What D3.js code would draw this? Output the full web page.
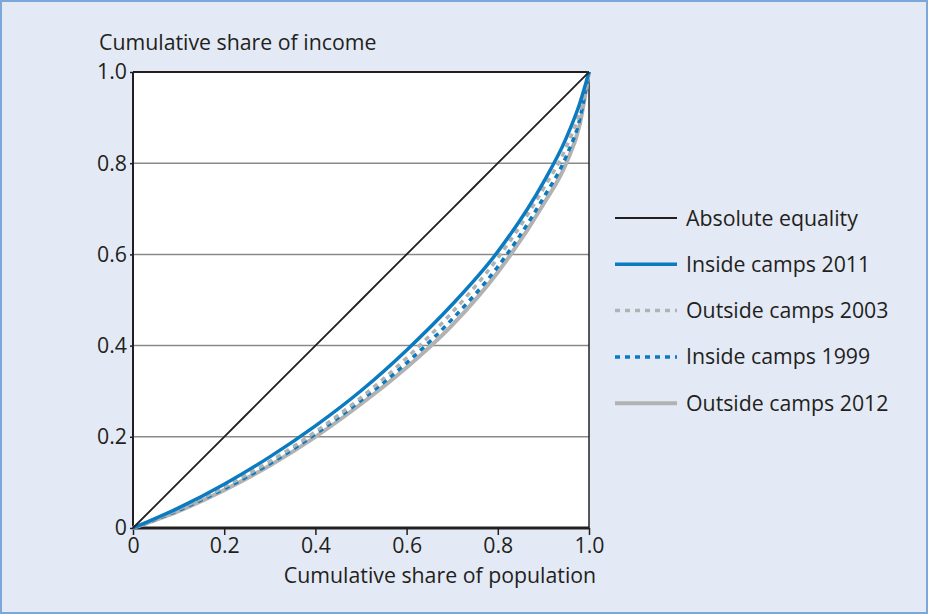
<!DOCTYPE html>
<html>
<head>
<meta charset="utf-8">
<script src="https://cdn.jsdelivr.net/npm/d3@7"></script>
<style>
  html, body { margin: 0; padding: 0; background: #e4eaf5; }
  svg { display: block; font-family: "Open Sans", "Noto Sans", sans-serif; }
</style>
</head>
<body>
<svg id="chart" width="928" height="614"></svg>
<script>
// Cumulative share of population (x) for the Lorenz curves
const populationShare = [0, 0.1, 0.2, 0.3, 0.4, 0.5, 0.6, 0.7, 0.8, 0.9, 0.95, 0.98, 1];
// Cumulative share of income (y) per series
const equality      = [0, 0.1, 0.2, 0.3, 0.4, 0.5, 0.6, 0.7, 0.8, 0.9, 0.95, 0.98, 1];
const inside2011    = [0, 0.044, 0.096, 0.156, 0.224, 0.301, 0.390, 0.490, 0.606, 0.758, 0.855, 0.932, 1];
const outside2003   = [0, 0.041, 0.090, 0.146, 0.211, 0.286, 0.373, 0.473, 0.592, 0.744, 0.835, 0.914, 1];
const inside1999    = [0, 0.039, 0.086, 0.141, 0.206, 0.280, 0.362, 0.458, 0.573, 0.724, 0.815, 0.898, 1];
const outside2012   = [0, 0.037, 0.083, 0.137, 0.200, 0.272, 0.352, 0.445, 0.561, 0.710, 0.800, 0.886, 1];
const xTicks = [0, 0.2, 0.4, 0.6, 0.8, 1.0];
const yTicks = [0, 0.2, 0.4, 0.6, 0.8, 1.0];
const xTickLabels = ["0", "0.2", "0.4", "0.6", "0.8", "1.0"];
const yTickLabels = ["0", "0.2", "0.4", "0.6", "0.8", "1.0"];
const seriesNames = ["Absolute equality", "Inside camps 2011", "Outside camps 2003", "Inside camps 1999", "Outside camps 2012"];

(function () {
const FS = 21.3;
const series = [
  { name: seriesNames[4], values: outside2012, color: "#b2b2b2", width: 4, dash: null },
  { name: seriesNames[3], values: inside1999, color: "#0b7bc1", width: 3.5, dash: "5,5" },
  { name: seriesNames[2], values: outside2003, color: "#b2b2b2", width: 3.5, dash: "5,5" },
  { name: seriesNames[1], values: inside2011, color: "#0b7bc1", width: 3.5, dash: null },
  { name: seriesNames[0], values: equality, color: "#231f20", width: 1.8, dash: null }
];

const svg = d3.select("#chart");
const W = 928, H = 614;

svg.append("rect").attr("x", 1).attr("y", 1).attr("width", W - 2).attr("height", H - 2)
  .attr("fill", "#e4eaf5").attr("stroke", "#7ba7d9").attr("stroke-width", 2);

const pL = 133, pR = 589, pT = 72, pB = 528;
const x = d3.scaleLinear().domain([0, 1]).range([pL, pR]);
const y = d3.scaleLinear().domain([0, 1]).range([pB, pT]);

// plot background
svg.append("rect").attr("x", pL).attr("y", pT).attr("width", pR - pL).attr("height", pB - pT)
  .attr("fill", "#ffffff");

// gridlines
svg.append("g").selectAll("line").data(yTicks.filter(t => t > 0 && t < 1)).join("line")
  .attr("x1", pL).attr("x2", pR).attr("y1", d => y(d)).attr("y2", d => y(d))
  .attr("stroke", "#8a8a8a").attr("stroke-width", 1.5);

// frame: top and right
svg.append("line").attr("x1", pL).attr("x2", pR).attr("y1", pT).attr("y2", pT)
  .attr("stroke", "#231f20").attr("stroke-width", 2);
svg.append("line").attr("x1", pR).attr("x2", pR).attr("y1", pT).attr("y2", pB)
  .attr("stroke", "#231f20").attr("stroke-width", 1.5);

// axes
const xAxis = d3.axisBottom(x).tickValues(xTicks).tickFormat((d, i) => xTickLabels[i]).tickSize(7).tickPadding(3);
const gx = svg.append("g").attr("transform", `translate(0,${pB})`).call(xAxis);
gx.select(".domain").attr("stroke", "#231f20").attr("stroke-width", 3).attr("d", `M${pL},0H${pR}`);
gx.selectAll(".tick line").attr("stroke", "#231f20").attr("stroke-width", 1.5);
gx.selectAll(".tick text").attr("fill", "#231f20").attr("font-size", FS).attr("font-family", "Open Sans, sans-serif");

const yAxis = d3.axisLeft(y).tickValues(yTicks).tickFormat((d, i) => yTickLabels[i]).tickSize(3).tickPadding(3);
const gy = svg.append("g").attr("transform", `translate(${pL},0)`).call(yAxis);
gy.select(".domain").attr("stroke", "#231f20").attr("stroke-width", 2).attr("d", `M0,${pT}V${pB}`);
gy.selectAll(".tick line").attr("stroke", "#231f20").attr("stroke-width", 1.5);
gy.selectAll(".tick text").attr("fill", "#231f20").attr("font-size", FS).attr("font-family", "Open Sans, sans-serif");

// lines
const line = d3.line()
  .x((d, i) => x(populationShare[i]))
  .y(d => y(d))
  .curve(d3.curveMonotoneX);

svg.append("clipPath").attr("id", "clip").append("rect")
  .attr("x", pL - 2).attr("y", pT - 2).attr("width", pR - pL + 4).attr("height", pB - pT + 4);

svg.append("g").attr("clip-path", "url(#clip)").selectAll("path").data(series).join("path")
  .attr("d", d => line(d.values))
  .attr("fill", "none")
  .attr("stroke", d => d.color)
  .attr("stroke-width", d => d.width)
  .attr("stroke-dasharray", d => d.dash);

// axis titles
svg.append("text").attr("x", 99).attr("y", 50).text("Cumulative share of income")
  .attr("fill", "#231f20").attr("font-size", FS);
svg.append("text").attr("x", 440).attr("y", 583).attr("text-anchor", "middle")
  .text("Cumulative share of population").attr("fill", "#231f20").attr("font-size", FS);

// legend
const legendOrder = [series[4], series[3], series[2], series[1], series[0]];
const lg = svg.append("g").selectAll("g").data(legendOrder).join("g")
  .attr("transform", (d, i) => `translate(615,${218 + i * 46.3})`);
lg.append("line").attr("x1", 0).attr("x2", 62).attr("y1", 0).attr("y2", 0)
  .attr("stroke", d => d.color).attr("stroke-width", d => d.width)
  .attr("stroke-dasharray", d => d.dash);
lg.append("text").attr("x", 71).attr("y", 7.5).text(d => d.name)
  .attr("fill", "#231f20").attr("font-size", FS);
})();
</script>
</body>
</html>
